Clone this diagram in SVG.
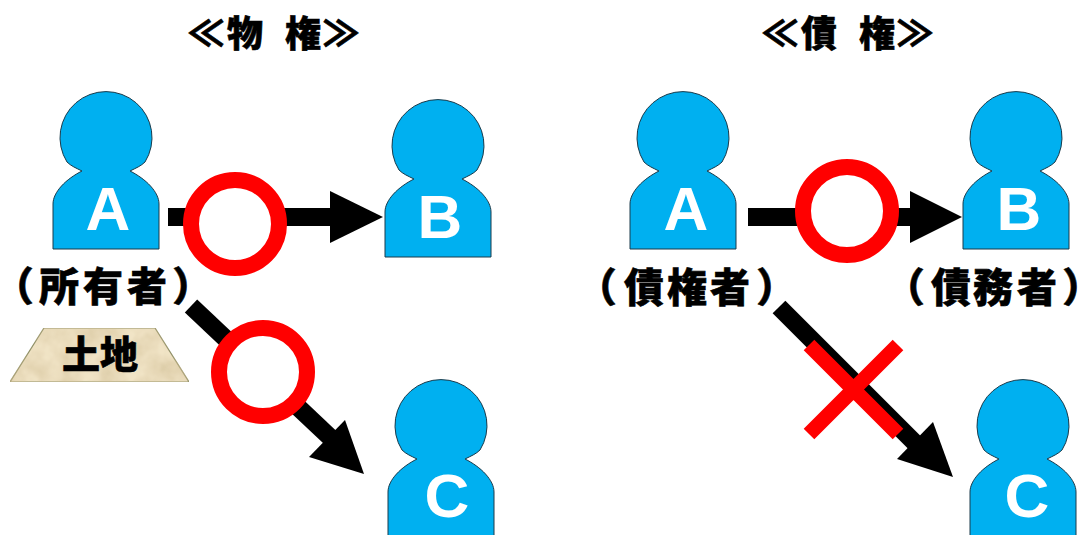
<svg xmlns="http://www.w3.org/2000/svg" width="1086" height="535" viewBox="0 0 1086 535">
<style>
.p{fill:#00b0f0;stroke:#1a3a4a;stroke-width:1}
.l{font-family:"Liberation Sans",Arial,sans-serif;font-weight:700;font-size:62px;fill:#fff;text-anchor:middle}
.t{font-family:"Noto Sans CJK JP",sans-serif;font-weight:900;fill:#000;stroke:#000;stroke-width:.6;font-feature-settings:"palt"}
.j{font-size:40px}
.h{font-size:36px}
.a{stroke:#000;stroke-width:18;fill:none}
.o{fill:#fff;stroke:#f00;stroke-width:16}
.x{stroke:#f00;stroke-width:15;fill:none}
</style>
<defs>
<path id="person" d="M53 249V204C53 192 66 179 82 171C76 168 71 166 67 162A46 46 0 1 1 145 162C141 166 136 168 130 171C146 179 159 192 159 204V249Z"/>
<filter id="mottle" x="0" y="0" width="100%" height="100%">
<feTurbulence type="fractalNoise" baseFrequency="0.05" numOctaves="3" seed="4"/>
<feColorMatrix values="0 0 0 0 .62  0 0 0 0 .5  0 0 0 0 .28  .9 0 0 0 -.22"/>
<feComposite in2="SourceAlpha" operator="in" result="n"/>
<feMerge><feMergeNode in="SourceGraphic"/><feMergeNode in="n"/></feMerge>
</filter>
</defs>
<text class="t h" x="188 227 260 285 323" y="47">≪物 権≫</text>
<text class="t h" x="762 801 834 859 897" y="47">≪債 権≫</text>
<g id="connectors">
<path class="a" d="M168 217H335"/><path d="M330 191L383 217L330 243Z"/>
<path class="a" d="M191 306L335 442"/><path d="M345 420L364 474L309 457Z"/>
<path class="a" d="M748 217H915"/><path d="M910 191L962 217L910 243Z"/>
<path class="a" d="M779 307L920 448"/><path d="M933 422L953 477L897 459Z"/>
</g>
<g id="person-a1"><use class="p" href="#person"/><text class="l" x="108" y="230">A</text></g>
<g id="person-b1"><use class="p" href="#person" x="332" y="8"/><text class="l" x="440" y="238">B</text></g>
<g id="person-c1"><use class="p" href="#person" x="335" y="288"/><text class="l" x="447" y="517">C</text></g>
<g id="person-a2"><use class="p" href="#person" x="577"/><text class="l" x="686" y="230">A</text></g>
<g id="person-b2"><use class="p" href="#person" x="910"/><text class="l" x="1019" y="230">B</text></g>
<g id="person-c2"><use class="p" href="#person" x="917" y="288"/><text class="l" x="1027" y="517">C</text></g>
<g id="mark-o1"><circle class="o" cx="235" cy="224" r="44"/></g>
<g id="mark-o2"><circle class="o" cx="263" cy="372" r="44"/></g>
<g id="mark-o3"><circle class="o" cx="847" cy="211" r="44"/></g>
<g id="mark-x"><path class="x" d="M809 345L898 434M898 345L809 434"/></g>
<g id="label-owner"><text class="t j" x="12 39 83 127 174" y="301">（所有者）</text></g>
<g id="label-creditor"><text class="t j" x="595 624 667 710 758" y="302">（債権者）</text></g>
<g id="label-debtor"><text class="t j" x="903 931 973 1017 1064" y="302">（債務者）</text></g>
<g id="land"><path d="M10 382L44 328H155L189 382Z" fill="#f1e4c6" stroke="#8f9068" stroke-width="1.2" filter="url(#mottle)"/><text class="t" x="62" y="368" font-size="38">土地</text></g>
</svg>
